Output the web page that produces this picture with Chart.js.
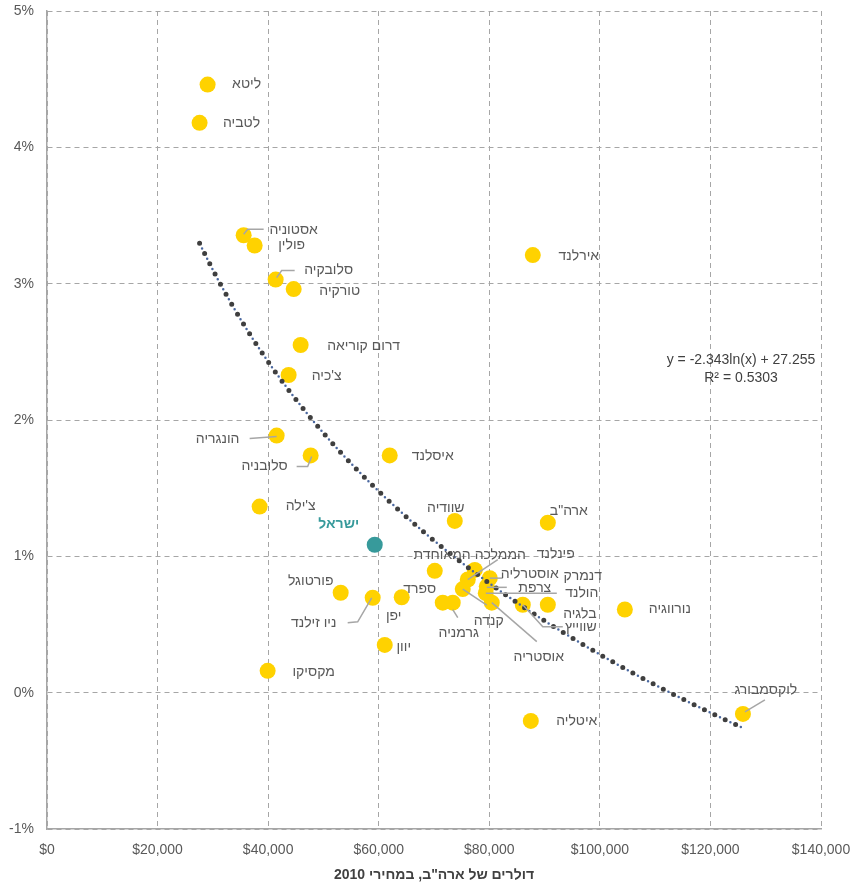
<!DOCTYPE html>
<html lang="he">
<head>
<meta charset="utf-8">
<title>תוצר לעובד וצמיחה</title>
<script src="https://cdn.jsdelivr.net/npm/chart.js@4.4.1/dist/chart.umd.min.js"></script>
<style>
  html, body { margin: 0; padding: 0; background: #ffffff; }
  #wrap { width: 859px; height: 887px; position: relative; }
</style>
</head>
<body>
<div id="wrap"><canvas id="chart" width="859" height="887"></canvas></div>
<script>
// Countries, output level (US$, 2010 prices) and average growth rate (%)
const countries = [
  'ליטא', 'לטביה', 'אסטוניה', 'פולין', 'סלובקיה', 'טורקיה', 'דרום קוריאה', "צ'כיה",
  'הונגריה', 'סלובניה', 'איסלנד', 'אירלנד', "צ'ילה", 'ישראל', 'שוודיה', 'ארה"ב',
  'פורטוגל', 'ניו זילנד', 'יפן', 'יוון', 'מקסיקו', 'הממלכה המאוחדת', 'דנמרק', 'פינלנד',
  'קנדה', 'אוסטרליה', 'צרפת', 'הולנד', 'אוסטריה', 'ספרד', 'גרמניה', 'שווייץ',
  'בלגיה', 'נורווגיה', 'לוקסמבורג', 'איטליה'
];
const outputLevel = [
  29050, 27600, 35570, 37560, 41360, 44620, 45880, 43710,
  41540, 47690, 61990, 87870, 38460, 59280, 73760, 90590,
  53120, 58910, 64160, 61090, 39910, 70140, 77380, 76110,
  75200, 80090, 79550, 79370, 80450, 71580, 73390, 86060,
  90590, 104520, 125880, 87510
];
const growthRate = [
  4.46, 4.18, 3.355, 3.28, 3.03, 2.96, 2.55, 2.33,
  1.886, 1.74, 1.74, 3.21, 1.365, 1.085, 1.26, 1.247,
  0.733, 0.696, 0.70, 0.35, 0.16, 0.894, 0.90, 0.83,
  0.76, 0.84, 0.78, 0.73, 0.66, 0.66, 0.66, 0.645,
  0.645, 0.61, -0.156, -0.207
];
const highlightCountry = 'ישראל';

// Axis ticks
const xTickValues = [0, 20000, 40000, 60000, 80000, 100000, 120000, 140000];
const yTickValues = [-1, 0, 1, 2, 3, 4, 5];
const xAxisTitle = 'דולרים של ארה"ב, במחירי 2010';

// Logarithmic trend: y = a*ln(x) + b
const trendA = -2.343;
const trendB = 27.255;
const trendR2 = 0.5303;

// Label placement (pixel offsets of the label centre from its marker) and leader lines
const labelLayout = {
  'ליטא': { d: [39, 0] },
  'לטביה': { d: [42, 0] },
  'אסטוניה': { d: [50, -5], lead: [[0, -1], [4, -6], [20, -6]] },
  'פולין': { d: [37, 0] },
  'סלובקיה': { d: [53, -9], lead: [[1, -2], [6, -9], [19, -9]] },
  'טורקיה': { d: [46, 2] },
  'דרום קוריאה': { d: [63, 1] },
  "צ'כיה": { d: [38, 1] },
  'הונגריה': { d: [-59, 4], lead: [[0, 1], [-27, 3]] },
  'סלובניה': { d: [-46, 11], lead: [[1, 1], [-3, 11], [-14, 11]] },
  'איסלנד': { d: [43, 1] },
  'אירלנד': { d: [46, 1] },
  "צ'ילה": { d: [41, 0] },
  'ישראל': { d: [-36, -21] },
  'שוודיה': { d: [-9, -13] },
  'ארה"ב': { d: [21, -12] },
  'פורטוגל': { d: [-30, -12] },
  'ניו זילנד': { d: [-59, 25], lead: [[-1, 0], [-15, 24], [-25, 25]] },
  'יפן': { d: [-8, 19] },
  'יוון': { d: [19, 2] },
  'מקסיקו': { d: [46, 1] },
  'הממלכה המאוחדת': { d: [35, -16] },
  'דנמרק': { d: [108, 6] },
  'פינלנד': { d: [88, -25], lead: [[0, 0], [30, -20]] },
  'קנדה': { d: [26, 32], lead: [[0, 0], [24, 16]] },
  'אוסטרליה': { d: [40, -4], lead: [[0, 0], [13, 0]] },
  'צרפת': { d: [48, 2], lead: [[0, 1], [20, 1]] },
  'הולנד': { d: [96, 0], lead: [[0, 0], [71, 0]] },
  'אוסטריה': { d: [47, 54], lead: [[0, 0], [45, 39]] },
  'ספרד': { d: [-23, -14] },
  'גרמניה': { d: [6, 30], lead: [[0, 7], [5, 15]] },
  'שווייץ': { d: [58, 22], lead: [[0, 0], [20, 22], [40, 22]] },
  'בלגיה': { d: [32, 9] },
  'נורווגיה': { d: [45, 0] },
  'לוקסמבורג': { d: [23, -24], lead: [[2, -2], [22, -14]] },
  'איטליה': { d: [46, 0] }
};

const FONT = 'Arial, "Liberation Sans", Helvetica, sans-serif';
const TEXT_COLOR = '#595959';
const GRID_COLOR = '#a6a6a6';
const POINT_COLOR = '#ffd200';
const HIGHLIGHT_COLOR = '#379a9b';

const points = countries.map((c, i) => ({ x: outputLevel[i], y: growthRate[i] }));

// Trend curve evaluated across the range of the observations
const xMin = Math.min(...outputLevel);
const xMax = Math.max(...outputLevel);
const trendPoints = [];
const steps = 160;
for (let k = 0; k <= steps; k++) {
  const x = xMin + (xMax - xMin) * k / steps;
  trendPoints.push({ x, y: trendA * Math.log(x) + trendB });
}

const labelPlugin = {
  id: 'countryLabels',
  afterDatasetsDraw(chart) {
    const ctx = chart.ctx;
    const meta = chart.getDatasetMeta(2);
    ctx.save();
    // leader lines
    ctx.strokeStyle = GRID_COLOR;
    ctx.lineWidth = 1.5;
    countries.forEach((name, i) => {
      const lay = labelLayout[name];
      if (!lay || !lay.lead) return;
      const el = meta.data[i];
      ctx.beginPath();
      lay.lead.forEach((p, j) => {
        const px = el.x + p[0], py = el.y + p[1];
        if (j === 0) ctx.moveTo(px, py); else ctx.lineTo(px, py);
      });
      ctx.stroke();
    });
    // text labels
    ctx.textAlign = 'center';
    ctx.textBaseline = 'middle';
    countries.forEach((name, i) => {
      const lay = labelLayout[name] || { d: [40, 0] };
      const el = meta.data[i];
      if (name === highlightCountry) {
        ctx.font = 'bold 14px ' + FONT;
        ctx.fillStyle = HIGHLIGHT_COLOR;
      } else {
        ctx.font = '14px ' + FONT;
        ctx.fillStyle = TEXT_COLOR;
      }
      ctx.fillText(name, el.x + lay.d[0], el.y + lay.d[1]);
    });
    // trend equation
    const area = chart.chartArea;
    ctx.font = '14px ' + FONT;
    ctx.fillStyle = '#404040';
    ctx.direction = 'ltr';
    const ex = area.right - 80, ey = area.top + 349;
    ctx.fillText('y = ' + trendA.toFixed(3) + 'ln(x) + ' + trendB.toFixed(3), ex, ey);
    ctx.fillText('R² = ' + trendR2.toFixed(4), ex, ey + 18);
    ctx.restore();
  }
};

new Chart(document.getElementById('chart'), {
  type: 'scatter',
  data: {
    datasets: [
      {
        label: 'trend',
        data: trendPoints,
        showLine: true,
        pointRadius: 0,
        borderColor: '#3f3f3f',
        borderWidth: 5,
        borderDash: [0, 11.5],
        borderCapStyle: 'round',
        tension: 0,
        fill: false,
        order: 1
      },
      {
        label: 'trend-inner',
        data: trendPoints,
        showLine: true,
        pointRadius: 0,
        borderColor: '#4a68a0',
        borderWidth: 2.5,
        borderDash: [0, 11.5],
        borderDashOffset: 5.75,
        borderCapStyle: 'round',
        tension: 0,
        fill: false,
        order: 2
      },
      {
        label: 'countries',
        data: points,
        pointRadius: 8,
        pointBorderWidth: 0,
        pointBackgroundColor: (c) => countries[c.dataIndex] === highlightCountry ? HIGHLIGHT_COLOR : POINT_COLOR,
        order: 3
      }
    ]
  },
  options: {
    responsive: false,
    animation: false,
    devicePixelRatio: 1,
    events: [],
    layout: { autoPadding: false, padding: { top: 11, right: 38, left: 0, bottom: 0 } },
    plugins: { legend: { display: false }, tooltip: { enabled: false } },
    scales: {
      x: {
        type: 'linear',
        min: xTickValues[0],
        max: xTickValues[xTickValues.length - 1],
        afterBuildTicks: (s) => { s.ticks = xTickValues.map(v => ({ value: v })); },
        afterFit: (s) => { s.height = 58; s.paddingLeft = 0; s.paddingRight = 0; },
        ticks: {
          color: TEXT_COLOR,
          font: { family: FONT, size: 14 },
          padding: 13,
          maxRotation: 0,
          callback: (v) => '$' + Number(v).toLocaleString('en-US')
        },
        grid: { color: GRID_COLOR, lineWidth: 1, drawTicks: false },
        border: { display: true, color: GRID_COLOR, width: 1.5, dash: [5, 4] },
        title: {
          display: true,
          text: xAxisTitle,
          color: '#404040',
          font: { family: FONT, size: 14, weight: 'bold' },
          padding: { top: 4, bottom: 3 }
        }
      },
      y: {
        type: 'linear',
        min: yTickValues[0],
        max: yTickValues[yTickValues.length - 1],
        afterBuildTicks: (s) => { s.ticks = yTickValues.map(v => ({ value: v })); },
        afterFit: (s) => { s.width = 47; s.paddingTop = 0; s.paddingBottom = 0; },
        ticks: {
          color: TEXT_COLOR,
          font: { family: FONT, size: 14 },
          padding: 13,
          callback: (v) => v + '%'
        },
        grid: { color: GRID_COLOR, lineWidth: 1, drawTicks: false },
        border: { display: true, color: GRID_COLOR, width: 1.5, dash: [5, 4] }
      }
    }
  },
  plugins: [labelPlugin]
});
</script>
</body>
</html>
